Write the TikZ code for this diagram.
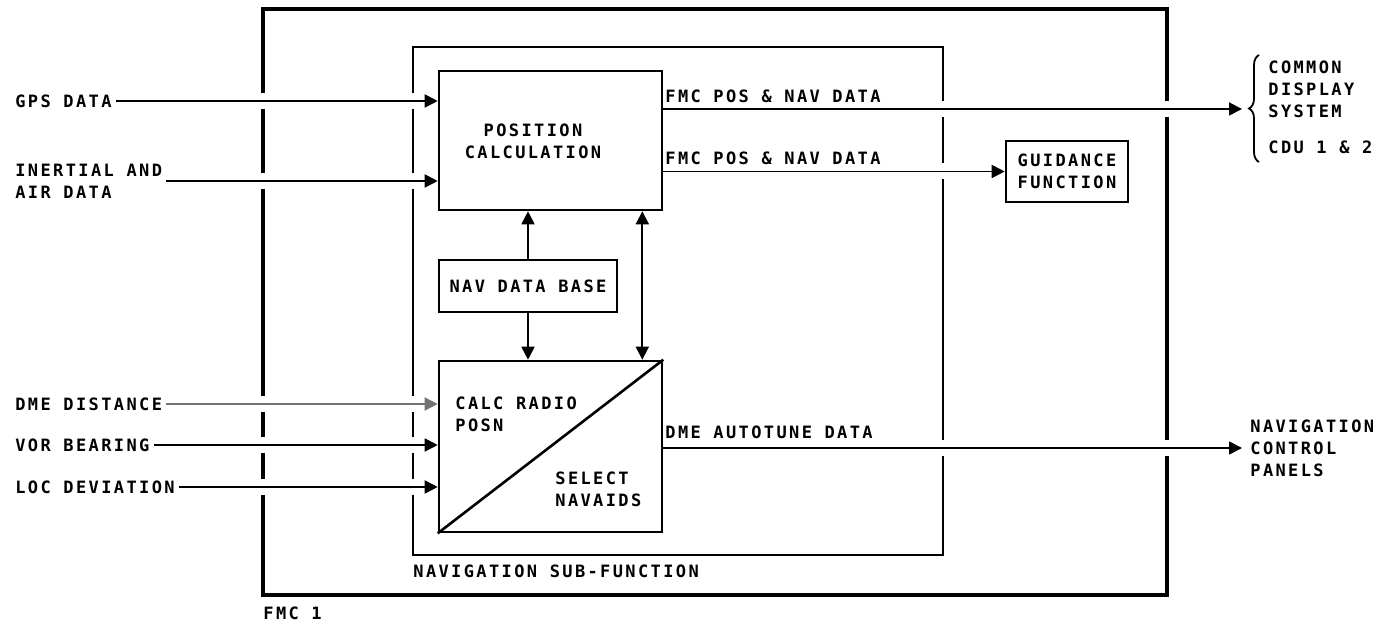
\documentclass[tikz,border=0pt]{standalone}
\usepackage{fontspec}
\setmonofont[LetterSpace=14]{DejaVu Sans Mono}
\usetikzlibrary{arrows.meta,calc,decorations.pathreplacing}

\begin{document}
\begin{tikzpicture}[
  x=0.5pt, y=-0.5pt,
  font=\ttfamily\bfseries\fontsize{8.5}{11}\selectfont,
  >={Triangle[length=6.5pt,width=6.5pt]},
  box/.style={draw=black, line width=1.3pt, inner sep=0pt, align=center},
  txt/.style={inner sep=0pt, align=left, anchor=west},
  insig/.style={txt, inner xsep=2pt},
  fmcbox/.style={draw=black, line width=2.2pt},
  subbox/.style={draw=black, line width=1.3pt},
  flow/.style={->, line width=0.9pt},
  cross/.style={flow, preaction={draw=white, line width=8pt, -, shorten >=8pt, shorten <=2pt}}
]
\useasboundingbox (0,0) rectangle (1385,624);

\draw[fmcbox] (263,9) rectangle (1167,595);
\draw[subbox] (413,47) rectangle (943,555);

\node[box, minimum width=111.5pt, minimum height=69.5pt] (pos) at (550.5,140.5) {};
\node[txt, anchor=center, align=center] (postext) at (533,141) {POSITION\\CALCULATION};
\node[box, minimum width=89pt, minimum height=26pt] (db) at (528,286) {NAV DATA BASE};
\node[box, minimum width=111.5pt, minimum height=85.5pt] (calc) at (550.5,446.5) {};
\draw[line width=1.3pt] (calc.south west) -- (calc.north east);
\node[txt] (calcradio) at (455,414) {CALC RADIO\\POSN};
\node[txt] (selnav) at (555,489) {SELECT\\NAVAIDS};
\node[box, minimum width=61pt, minimum height=30.5pt] (guid) at (1067,171.5) {GUIDANCE\\FUNCTION};

\node[insig] (gps) at (11,101) {GPS DATA};
\node[insig] (inert) at (11,181) {INERTIAL AND\\AIR DATA};
\node[insig] (dme) at (11,404) {DME DISTANCE};
\node[insig] (vor) at (11,445) {VOR BEARING};
\node[insig] (loc) at (11,487) {LOC DEVIATION};

\draw[decorate, decoration={brace, amplitude=5pt}, line width=0.9pt] (1259,162) -- (1259,55);
\coordinate (cdstip) at (1242,109);
\node[txt] (cds) at (1268,89) {COMMON\\DISPLAY\\SYSTEM};
\node[txt] (cdu) at (1268,147) {CDU 1 \& 2};
\node[txt, inner xsep=4pt] (ncp) at (1242,448) {NAVIGATION\\CONTROL\\PANELS};

\node[txt] (subname) at (413,571) {NAVIGATION SUB-FUNCTION};
\node[txt] (fmcname) at (263,613) {FMC 1};

\draw[cross] (gps) -- (gps -| pos.west);
\draw[cross] (inert) -- (inert -| pos.west);
\draw[cross, draw=black!55, line width=0.7pt] (dme) -- (dme -| calc.west);
\draw[cross] (vor) -- (vor -| calc.west);
\draw[cross] (loc) -- (loc -| calc.west);

\draw[flow] (db.north) -- (pos.south -| db.north);
\draw[flow] (db.south) -- (calc.north -| db.south);
\draw[flow, <->] ($(pos.south east)+(-21,0)$) -- ($(calc.north east)+(-21,0)$);

\draw[cross] (pos.east |- cdstip) -- (cdstip);
\draw[cross] (pos.east |- guid.west) -- (guid.west);
\draw[cross] (calc.east |- ncp.west) -- (ncp.west);

\node[txt] (posout) at (665,96) {FMC POS \& NAV DATA};
\node[txt] (guidout) at (665,158) {FMC POS \& NAV DATA};
\node[txt] (tuneout) at (665,432) {DME AUTOTUNE DATA};
\end{tikzpicture}
\end{document}
